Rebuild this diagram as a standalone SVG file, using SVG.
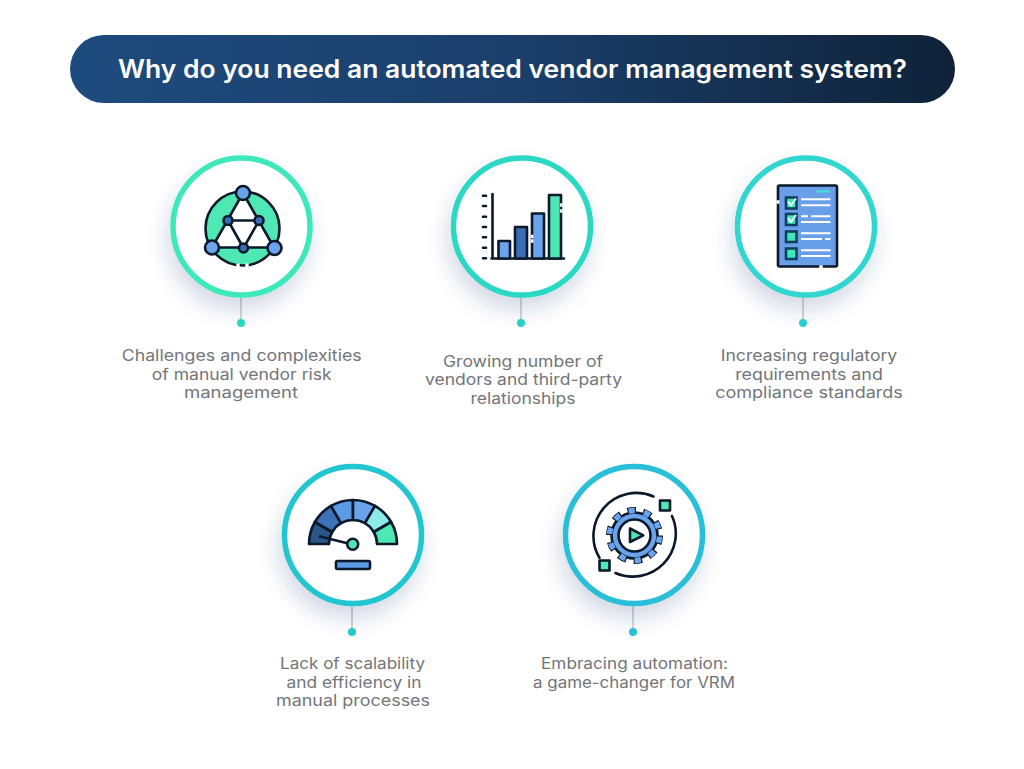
<svg xmlns="http://www.w3.org/2000/svg" width="1024" height="769" viewBox="0 0 1024 769">
<defs>
<linearGradient id="tg" x1="0" x2="1" y1="0" y2="0"><stop offset="0" stop-color="#1e4b7e"/><stop offset="0.5" stop-color="#1b3f6b"/><stop offset="1" stop-color="#0f2239"/></linearGradient>
<filter id="sh" x="-40%" y="-40%" width="180%" height="180%"><feDropShadow dx="-3" dy="12" stdDeviation="10" flood-color="#2a4a80" flood-opacity="0.2"/></filter>
</defs>
<style>
text{font-family:"Inter","Noto Sans","Liberation Sans",sans-serif}
.t{font-size:15.5px;fill:#737578;text-anchor:middle}
.title{font-size:25px;font-weight:600;fill:#fff}
.ring{fill:#fff;stroke-width:5.5;filter:url(#sh)}
.k{stroke:#0b1a2b;stroke-width:2.6;stroke-linejoin:round}
.kl{fill:none;stroke:#0b1a2b;stroke-width:2.6;stroke-linecap:round}
.w{stroke:#fff;stroke-width:1.9;fill:none}
.gap{stroke:#fff;stroke-width:3.400;fill:none}
.stem{stroke:#b4b8bc;stroke-width:1.2}
</style>
<rect width="1024" height="769" fill="#fff"/>
<g id="title"><rect x="70" y="35" width="885" height="68" rx="34" fill="url(#tg)"/><text class="title" x="118" y="78" textLength="789" lengthAdjust="spacingAndGlyphs">Why do you need an automated vendor management system?</text></g>
<g id="connectors">
<line class="stem" x1="241" y1="296" x2="241" y2="323"/><circle cx="241" cy="323" r="4" fill="#2bdcc0"/>
<line class="stem" x1="521" y1="296" x2="521" y2="323"/><circle cx="521" cy="323" r="4" fill="#26d6c6"/>
<line class="stem" x1="803" y1="296" x2="803" y2="323"/><circle cx="803" cy="323" r="4" fill="#2ad2d0"/>
<line class="stem" x1="352" y1="604" x2="352" y2="632"/><circle cx="352" cy="632" r="4" fill="#22cfc8"/>
<line class="stem" x1="633" y1="604" x2="633" y2="632"/><circle cx="633" cy="632" r="4" fill="#2bc4d8"/>
</g>
<g id="node1">
<circle class="ring" cx="241.500" cy="226.500" r="68.500" stroke="#3de8ba"/>
<circle cx="242.500" cy="228.500" r="37" fill="#4ee8b5" class="k"/>
<path d="M243 193L212 247.500H274Z" fill="#fff" class="k"/>
<path d="M228 220.500H259L243.500 248Z" fill="#fff" class="k"/>
<path class="gap" d="M238 267.500v-4M247 267.500v-4" stroke-width="2"/>
<circle cx="243" cy="193" r="7" fill="#6ba4ec" class="k"/><circle cx="212" cy="247.500" r="7" fill="#6ba4ec" class="k"/><circle cx="274.500" cy="248" r="7" fill="#6ba4ec" class="k"/>
<circle cx="228" cy="220.500" r="4.500" fill="#3a6eb5" class="k"/><circle cx="259" cy="220.500" r="4.500" fill="#3a6eb5" class="k"/><circle cx="243.500" cy="248" r="4.500" fill="#3a6eb5" class="k"/>
<text class="t"><tspan x="241.700" y="361" textLength="240" lengthAdjust="spacingAndGlyphs">Challenges and complexities</tspan><tspan x="241.700" y="379.500" textLength="180" lengthAdjust="spacingAndGlyphs">of manual vendor risk</tspan><tspan x="241" y="398" textLength="114" lengthAdjust="spacingAndGlyphs">management</tspan></text>
</g>
<g id="node2">
<circle class="ring" cx="522" cy="226.500" r="68.500" stroke="#2ad8c4"/>
<path d="M492.500 194V258.500M491.500 258.500H564" class="kl"/>
<path d="M483 195.700h3M483 206h3M483 216.700h3M483 227h3M483 237.300h3M483 247.700h3M483 258.300h3" class="kl"/>
<rect x="498.500" y="241" width="11.500" height="17.500" fill="#6ba4ec" class="k"/>
<rect x="515" y="227" width="12" height="31.500" fill="#3a6eb5" class="k"/>
<rect x="532" y="213.500" width="12" height="45" fill="#6ba4ec" class="k"/>
<rect x="549" y="195" width="12" height="63.500" fill="#4ee8b5" class="k"/>
<path class="gap" d="M531 236.500h2.500M531 241h2.500M560 205h2.500M560 211h2.500" stroke-width="2"/>
<text class="t"><tspan x="523" y="366.500" textLength="160" lengthAdjust="spacingAndGlyphs">Growing number of</tspan><tspan x="523.500" y="385" textLength="197" lengthAdjust="spacingAndGlyphs">vendors and third-party</tspan><tspan x="523" y="403.500" textLength="105" lengthAdjust="spacingAndGlyphs">relationships</tspan></text>
</g>
<g id="node3">
<circle class="ring" cx="806" cy="226.500" r="68.500" stroke="#30d6d0"/>
<rect x="778" y="185.500" width="59" height="81" rx="1.500" fill="#689fe8" class="k"/>
<path d="M816.500 191.500H830" stroke="#3de8c8" stroke-width="2"/>
<path class="gap" d="M776.500 202h3M821 265.200v3" stroke-width="2"/>
<rect x="786" y="197.500" width="10.500" height="11" fill="#3de8ba" stroke="#123f5e" stroke-width="2.600"/><path d="M788 201.500l3 4 5-7" fill="none" stroke="#fff" stroke-width="1.800"/>
<rect x="786" y="214" width="10.500" height="11" fill="#3de8ba" stroke="#123f5e" stroke-width="2.600"/><path d="M788 218l3 4 5-7" fill="none" stroke="#fff" stroke-width="1.800"/>
<rect x="786" y="231.500" width="10.500" height="10.500" fill="#3de8ba" stroke="#123f5e" stroke-width="2.600"/>
<rect x="786" y="248.500" width="10.500" height="10.500" fill="#3de8ba" stroke="#123f5e" stroke-width="2.600"/>
<path class="w" d="M801 199.300H830.500M801 205.300H830.500M801 216.300H808M811 216.300H830.500M801 222H830.500M801 233.300H830.500M801 239H822M825 239H830.500M801 250.300H830.500M801 256H830.500"/>
<text class="t"><tspan x="809" y="361" textLength="176.600" lengthAdjust="spacingAndGlyphs">Increasing regulatory</tspan><tspan x="809" y="379.500" textLength="147.700" lengthAdjust="spacingAndGlyphs">requirements and</tspan><tspan x="809" y="397.500" textLength="187.700" lengthAdjust="spacingAndGlyphs">compliance standards</tspan></text>
</g>
<g id="node4">
<circle class="ring" cx="353" cy="535" r="68.500" stroke="#22c6d0"/>
<path d="M309 544A44 44 0 0 1 314.900 522L332.200 532A24 24 0 0 0 329 544Z" fill="#2a5587" class="k"/>
<path d="M314.900 522A44 44 0 0 1 331 505.900L341 523.200A24 24 0 0 0 332.200 532Z" fill="#3d72b8" class="k"/>
<path d="M331 505.900A44 44 0 0 1 353 500V520A24 24 0 0 0 341 523.200Z" fill="#5d9ae6" class="k"/>
<path d="M353 500A44 44 0 0 1 375 505.900L365 523.200A24 24 0 0 0 353 520Z" fill="#6ba4ec" class="k"/>
<path d="M375 505.900A44 44 0 0 1 391.100 522L373.800 532A24 24 0 0 0 365 523.200Z" fill="#8ceaea" class="k"/>
<path d="M391.100 522A44 44 0 0 1 397 544H377A24 24 0 0 0 373.800 532Z" fill="#4ee8b5" class="k"/>
<path d="M320 536.500L352.500 544.500" class="kl"/>
<circle cx="352.700" cy="544.300" r="5.500" fill="#4ee8b5" class="k"/>
<rect x="336" y="561" width="34" height="8" rx="1.500" fill="#5d9ae6" class="k"/>
<text class="t"><tspan x="352.500" y="669" textLength="145" lengthAdjust="spacingAndGlyphs">Lack of scalability</tspan><tspan x="354" y="687.500" textLength="135" lengthAdjust="spacingAndGlyphs">and efficiency in</tspan><tspan x="353" y="706" textLength="154" lengthAdjust="spacingAndGlyphs">manual processes</tspan></text>
</g>
<g id="node5">
<circle class="ring" cx="634" cy="535" r="68.500" stroke="#2bbfd8"/>
<path d="M653.500 496.500A43 43 0 0 0 599.500 558M672 516A43 43 0 0 1 615.500 573" class="kl"/>
<rect x="660" y="500.500" width="10" height="10" fill="#4ee8b5" class="k"/>
<rect x="599.500" y="560.500" width="10" height="10" fill="#4ee8b5" class="k"/>
<circle cx="634.500" cy="535.500" r="25" fill="none" stroke="#0b1a2b" stroke-width="7" stroke-dasharray="8.500 7.208"/>
<circle cx="634.500" cy="535.500" r="23" fill="#6ba4ec" class="k"/>
<circle cx="634.500" cy="535.500" r="25" fill="none" stroke="#6ba4ec" stroke-width="5.500" stroke-dasharray="6.200 9.508" stroke-dashoffset="-1.150"/>
<circle cx="634.500" cy="535.500" r="16" fill="#fff" class="k"/>
<path d="M630 528.500L643.300 535.300L630 542Z" fill="#4ee8b5" class="k"/>
<text class="t"><tspan x="634.500" y="669" textLength="187" lengthAdjust="spacingAndGlyphs">Embracing automation:</tspan><tspan x="634" y="687.500" textLength="202" lengthAdjust="spacingAndGlyphs">a game-changer for VRM</tspan></text>
</g>
</svg>
